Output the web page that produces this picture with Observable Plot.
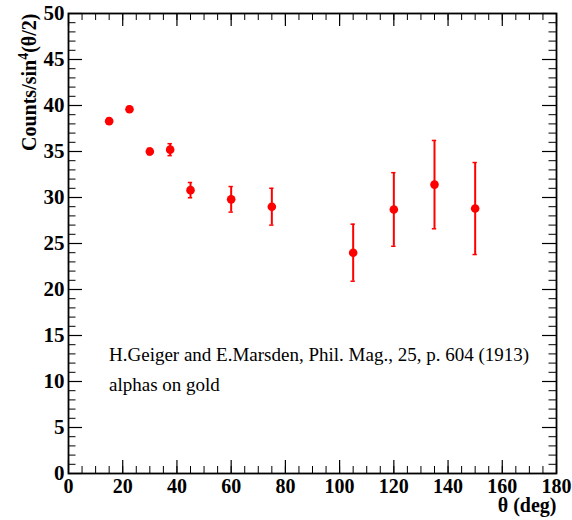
<!DOCTYPE html>
<html>
<head>
<meta charset="utf-8">
<script src="https://cdn.jsdelivr.net/npm/d3@7"></script>
<script src="https://cdn.jsdelivr.net/npm/@observablehq/plot@0.6"></script>
<style>
  html, body { margin: 0; padding: 0; background: #fff; }
  svg text { font-family: "Liberation Serif", serif !important; }
</style>
</head>
<body>
<div id="chart"></div>
<script>
// Data
const theta = [15, 22.5, 30, 37.5, 45, 60, 75, 105, 120, 135, 150];
const counts = [38.3, 39.6, 35.0, 35.2, 30.8, 29.8, 29.0, 24.0, 28.7, 31.4, 28.8];
const errors = [0.3, 0.3, 0.35, 0.65, 0.83, 1.39, 2.0, 3.1, 4.0, 4.8, 5.0];

// Tick labels
const xMajor = [0, 20, 40, 60, 80, 100, 120, 140, 160, 180];
const xMinor = d3.range(0, 181, 5);
const yMajor = [0, 5, 10, 15, 20, 25, 30, 35, 40, 45, 50];
const yMinor = d3.range(0, 51, 1);

const xTitle = "θ (deg)";
const yTitleParts = ["Counts/sin", "4", "(θ/2)"];
const yTitle = yTitleParts.join("");
const note1 = "H.Geiger and E.Marsden, Phil. Mag., 25, p. 604 (1913)";
const note2 = "alphas on gold";

const data = theta.map((t, i) => ({x: t, y: counts[i], e: errors[i]}));

const W = 572, H = 520;
const mL = 68, mR = 16, mT = 13, mB = 47;
const pw = W - mL - mR, ph = H - mT - mB;
const font = "Liberation Serif";
const red = "#ff0000";

const chart = Plot.plot({
  width: W,
  height: H,
  marginLeft: mL,
  marginRight: mR,
  marginTop: mT,
  marginBottom: mB,
  style: {fontFamily: font, background: "#fff", color: "#000"},
  x: {domain: [0, 180]},
  y: {domain: [0, 50]},
  marks: [
    // ticks (inward, ROOT style)
    Plot.ruleX(xMinor, {x: d => d, insetTop: ph - 7, stroke: "#000", strokeWidth: 1}),
    Plot.ruleX(xMajor, {x: d => d, insetTop: ph - 13, stroke: "#000", strokeWidth: 1.2}),
    Plot.ruleX(xMinor, {x: d => d, insetBottom: ph - 7, stroke: "#000", strokeWidth: 1}),
    Plot.ruleX(xMajor, {x: d => d, insetBottom: ph - 13, stroke: "#000", strokeWidth: 1.2}),
    Plot.ruleY(yMinor, {y: d => d, insetRight: pw - 7.5, stroke: "#000", strokeWidth: 1}),
    Plot.ruleY(yMajor, {y: d => d, insetRight: pw - 14, stroke: "#000", strokeWidth: 1.2}),
    Plot.ruleY(yMinor, {y: d => d, insetLeft: pw - 7.5, stroke: "#000", strokeWidth: 1}),
    Plot.ruleY(yMajor, {y: d => d, insetLeft: pw - 14, stroke: "#000", strokeWidth: 1.2}),
    Plot.frame({stroke: "#000", strokeWidth: 1.8}),
    // axis labels
    Plot.axisX({ticks: xMajor, tickSize: 0, tickPadding: 5, label: null,
      fontSize: 20, fontWeight: "bold", fontFamily: font, fill: "#000"}),
    Plot.axisY({ticks: yMajor, tickSize: 0, tickPadding: 4, label: null,
      fontSize: 21, fontWeight: "bold", fontFamily: font, fill: "#000"}),
    // titles
    Plot.text([xTitle], {frameAnchor: "bottom-right", text: d => d, textAnchor: "end",
      dy: 38, fontSize: 20, fontWeight: "bold", fontFamily: font, fill: "#000"}),
    Plot.text([yTitle], {frameAnchor: "top-left", text: d => d, textAnchor: "end",
      rotate: -90, dx: -47, dy: 0, fontSize: 20, fontWeight: "bold", fontFamily: font,
      fill: "#000", className: "ytitle"}),
    // annotations
    Plot.text([note1], {frameAnchor: "top-left", text: d => d, textAnchor: "start",
      dx: 40.5, dy: 334, fontSize: 19, fontFamily: font, fill: "#000"}),
    Plot.text([note2], {frameAnchor: "top-left", text: d => d, textAnchor: "start",
      dx: 40.5, dy: 364, fontSize: 19, fontFamily: font, fill: "#000"}),
    // error bars
    Plot.ruleX(data, {x: "x", y1: d => d.y - d.e, y2: d => d.y + d.e, stroke: red, strokeWidth: 2}),
    Plot.ruleY(data, {y: d => d.y + d.e, x1: d => d.x - 0.8, x2: d => d.x + 0.8, stroke: red, strokeWidth: 1.5}),
    Plot.ruleY(data, {y: d => d.y - d.e, x1: d => d.x - 0.8, x2: d => d.x + 0.8, stroke: red, strokeWidth: 1.5}),
    // markers
    Plot.dot(data, {x: "x", y: "y", r: 4.3, fill: red, stroke: "none"})
  ]
});

// superscript in the y title
d3.select(chart).selectAll("g.ytitle text").each(function () {
  const t = d3.select(this);
  t.text(null);
  t.append("tspan").text(yTitleParts[0]);
  t.append("tspan").attr("dy", -8).attr("font-size", 14).text(yTitleParts[1]);
  t.append("tspan").attr("dy", 8).text(yTitleParts[2]);
});

document.getElementById("chart").appendChild(chart);
</script>
</body>
</html>
